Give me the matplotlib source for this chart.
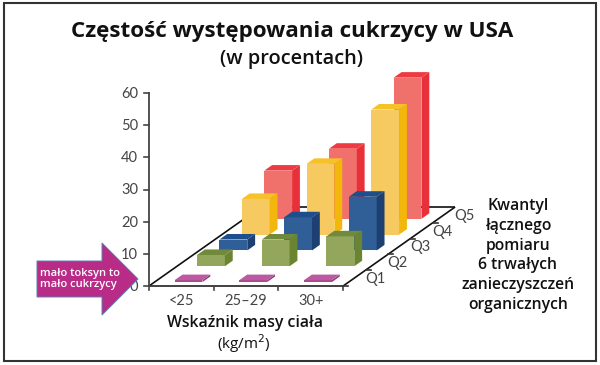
import matplotlib
matplotlib.use("Agg")
import matplotlib.pyplot as plt
from matplotlib.patches import Polygon, Rectangle

bmi_labels = ["<25", "25\u201329", "30+"]
quantile_labels = ["Q1", "Q2", "Q3", "Q4", "Q5"]
y_ticks = [0, 10, 20, 30, 40, 50, 60]

# prevalence in percent, one list per quantile, in bmi order
q1_values = [0.6, 0.6, 0.6]
q2_values = [3.5, 8.3, 9.3]
q3_values = [3.4, 10.3, 16.7]
q4_values = [11.1, 22.0, 38.9]
q5_values = [15.0, 21.8, 43.9]
values = [q1_values, q2_values, q3_values, q4_values, q5_values]

q_colors = [
    ("#ad4a90", "#8f3a78", "#bb5aa0"),
    ("#93a65c", "#6b8431", "#70893a"),
    ("#2f5f96", "#1d3f72", "#1f4e8c"),
    ("#f6c961", "#f2b70a", "#f6c22a"),
    ("#f0716b", "#e8303a", "#ee3b42"),
]

# oblique projection, pixels of the 600x365 picture
ORIGIN = (149, 286)
BMI_STEP = 64.7
DEPTH_STEP = (22.4, -15.8)
PX_PER_UNIT = 193 / 60


def proj(x, q, z=0):
    px = ORIGIN[0] + x * BMI_STEP + q * DEPTH_STEP[0]
    py = ORIGIN[1] + q * DEPTH_STEP[1] - z * PX_PER_UNIT
    return (px, py)


def draw_bar(ax, i, q, h, colors):
    front, side, top = colors
    x0, x1 = i + 0.31, i + 0.74
    q0, q1 = q + 0.25, q + 0.6
    z = 1
    ax.add_patch(Polygon([proj(x0, q0), proj(x1, q0), proj(x1, q0, h), proj(x0, q0, h)],
                         fc=front, ec="none", zorder=z))
    ax.add_patch(Polygon([proj(x1, q0), proj(x1, q1), proj(x1, q1, h), proj(x1, q0, h)],
                         fc=side, ec="none", zorder=z))
    ax.add_patch(Polygon([proj(x0, q0, h), proj(x1, q0, h), proj(x1, q1, h), proj(x0, q1, h)],
                         fc=top, ec="none", zorder=z))


plt.rcParams["font.family"] = ["Open Sans", "DejaVu Sans"]
fig = plt.figure(figsize=(6, 3.65), dpi=100)
ax = fig.add_axes([0, 0, 1, 1])
ax.set_xlim(0, 600)
ax.set_ylim(365, 0)
ax.axis("off")

ax.add_patch(Rectangle((4, 3), 592, 357.5, fc="white", ec="#333333", lw=1.5, zorder=0))

# floor edges
line = dict(color="#111111", lw=1.2, zorder=0.5, solid_capstyle="butt")
ax.plot(*zip(proj(0, 0), proj(0, 5)), **line)
ax.plot(*zip(proj(0, 5), proj(3, 5)), **line)
ax.plot(*zip(proj(3, 0), proj(3, 5)), **line)
ax.plot(*zip(proj(0, 0), proj(3, 0)), color="#333333", lw=1.3, zorder=0.5)
ax.plot(*zip(proj(0, 0), proj(0, 0, 60)), color="#444444", lw=1.3, zorder=0.5)

for q in range(len(values) - 1, -1, -1):
    for i in range(len(bmi_labels) - 1, -1, -1):
        draw_bar(ax, i, q, values[q][i], q_colors[q])

tick_font = dict(fontsize=10.5, color="#444444", family=["Lato", "DejaVu Sans"])
for v in y_ticks:
    x, y = proj(0, 0, v)
    ax.plot([x - 5, x], [y, y], color="#444444", lw=1.2)
    ax.text(x - 11, y + 1, str(v), ha="right", va="center", **tick_font)
for i in range(len(bmi_labels) + 1):
    x, y = proj(i, 0)
    ax.plot([x, x], [y, y + 4], color="#444444", lw=1.2)
for i, lab in enumerate(bmi_labels):
    x, y = proj(i + 0.5, 0)
    ax.text(x, y + 15, lab, ha="center", va="center", **tick_font)
for q, lab in enumerate(quantile_labels):
    x, y = proj(3, q)
    ax.plot([x, x + 5], [y, y], color="#333333", lw=1.2)
    x, y = proj(3, q + 0.5)
    ax.text(x + 21, y + 1, lab, ha="center", va="center", **tick_font)

ax.text(292, 31, "Cz\u0119sto\u015b\u0107 wyst\u0119powania cukrzycy w USA",
        ha="center", va="center", fontsize=16.1, fontweight="bold", color="#111111")
ax.text(291, 59, "(w procentach)", ha="center", va="center", fontsize=14.4,
        fontweight="semibold", color="#111111")
ax.text(245, 323, "Wska\u017anik masy cia\u0142a", ha="center", va="center",
        fontsize=11.4, fontweight="semibold", color="#111111")
ax.text(244, 344, "(kg/m$^2$)", ha="center", va="center", fontsize=11, color="#111111",
        math_fontfamily="dejavusans")

right_lines = ["Kwantyl", "\u0142\u0105cznego", "pomiaru", "6 trwa\u0142ych",
               "zanieczyszcze\u0144", "organicznych"]
for n, lab in enumerate(right_lines):
    ax.text(518, 206 + n * 19.8, lab, ha="center", va="center",
            fontsize=11.3, fontweight="semibold", color="#111111")

ax.add_patch(Polygon([(37, 261), (102, 261), (102, 243), (138, 279),
                      (102, 315), (102, 297), (37, 297)],
                     fc="#b82c88", ec="#5b7fb5", lw=0.7, zorder=3))
ax.text(40, 279, "ma\u0142o toksyn to\nma\u0142o cukrzycy", ha="left", va="center",
        fontsize=8, fontweight="semibold", color="white", zorder=4, linespacing=1.1)

fig.savefig("out.png", dpi=100)
